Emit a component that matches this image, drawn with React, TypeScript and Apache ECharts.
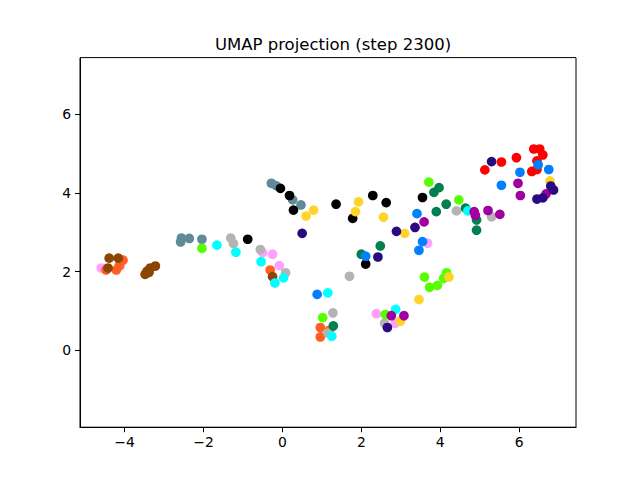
import React, { useEffect, useRef } from "react";
import * as echarts from "echarts";

const titleText = "UMAP projection (step 2300)";
const xTicks = [-4, -2, 0, 2, 4, 6];
const yTicks = [0, 2, 4, 6];

const pinkPts = [[-4.59, 2.09], [-4.1, 2.16], [-0.5, 2.48], [-0.25, 2.44], [-0.08, 2.15], [3.68, 2.72], [2.38, 0.93], [2.86, 0.69]];
const orangePts = [[-4.47, 2.04], [-4.21, 2.04], [-4.04, 2.29], [-4.14, 2.14], [-0.31, 2.04], [0.96, 0.58], [1.19, 0.51], [0.96, 0.34]];
const brownPts = [[-4.39, 2.34], [-4.16, 2.34], [-4.42, 2.09], [-3.48, 1.93], [-3.43, 2.01], [-3.35, 2.09], [-3.22, 2.14], [-3.38, 1.98], [-0.25, 1.87]];
const slatePts = [[-2.58, 2.75], [-2.56, 2.85], [-2.36, 2.84], [-2.04, 2.82], [-0.28, 4.24], [-0.16, 4.18], [0.26, 3.82], [0.47, 3.69]];
const grayPts = [[-1.31, 2.85], [-1.24, 2.71], [-0.56, 2.56], [0.08, 1.97], [1.7, 1.88], [1.28, 0.95], [1.15, 0.44], [2.59, 0.69], [4.41, 3.54], [5.3, 3.39]];
const greenPts = [[3.84, 4.01], [3.97, 4.13], [4.15, 3.71], [3.9, 3.52], [4.64, 3.61], [4.92, 3.31], [4.92, 3.05], [2.48, 2.65], [2.0, 2.44], [1.29, 0.62]];
const limePts = [[3.71, 4.27], [4.47, 3.82], [-2.04, 2.59], [1.02, 0.83], [2.61, 0.91], [3.6, 1.86], [3.73, 1.6], [3.93, 1.65], [4.09, 1.83], [4.16, 1.97]];
const cyanPts = [[-1.66, 2.67], [-1.18, 2.49], [-0.54, 2.25], [0.03, 1.84], [-0.19, 1.71], [1.15, 1.46], [1.25, 0.36], [2.87, 1.04], [4.7, 3.54]];
const blackPts = [[-0.88, 2.82], [-0.05, 4.11], [0.18, 3.93], [0.28, 3.56], [1.36, 3.71], [1.78, 3.35], [2.29, 3.93], [2.63, 3.75], [2.11, 2.19], [3.55, 3.88]];
const yellowPts = [[6.78, 4.3], [0.6, 3.41], [0.79, 3.56], [1.93, 3.77], [1.85, 3.52], [2.56, 3.38], [3.1, 2.97], [2.99, 0.74], [3.46, 1.29], [4.22, 1.86]];
const redPts = [[5.13, 4.58], [5.55, 4.78], [5.93, 4.89], [6.37, 5.11], [6.52, 5.11], [6.6, 4.96], [6.45, 4.81], [6.45, 4.59], [6.32, 4.54]];
const bluePts = [[6.02, 4.52], [5.55, 4.19], [6.48, 4.71], [6.75, 4.59], [3.41, 3.47], [3.55, 2.76], [3.46, 2.54], [2.11, 2.39], [0.88, 1.42]];
const magentaPts = [[5.97, 4.24], [6.03, 3.93], [6.68, 3.97], [3.59, 3.26], [4.86, 3.52], [4.89, 3.43], [5.21, 3.55], [5.51, 3.45], [2.76, 0.88], [3.08, 0.88]];
const indigoPts = [[5.3, 4.79], [0.5, 2.97], [2.89, 3.02], [3.36, 3.12], [2.42, 2.37], [2.66, 0.58], [6.8, 4.17], [6.87, 4.07], [6.45, 3.84], [6.6, 3.87]];

const groups: [number[][], string][] = [
  [pinkPts, "#ffa0ff"],
  [orangePts, "#ff5f1f"],
  [brownPts, "#8b4500"],
  [slatePts, "#5f8b96"],
  [grayPts, "#b4b4b4"],
  [greenPts, "#007f4f"],
  [limePts, "#55ff00"],
  [cyanPts, "#00ffff"],
  [blackPts, "#000000"],
  [yellowPts, "#ffd42a"],
  [redPts, "#ff0000"],
  [bluePts, "#0080ff"],
  [magentaPts, "#a000a0"],
  [indigoPts, "#2a0a80"],
];

const fmt = (v: number) => String(v).replace("-", "\u2212");

export default function App() {
  const ref = useRef<HTMLDivElement>(null);
  useEffect(() => {
    if (!ref.current) return;
    const chart = echarts.init(ref.current, null, { renderer: "svg" });
    chart.setOption({
      animation: false,
      backgroundColor: "#ffffff",
      textStyle: { fontFamily: "DejaVu Sans" },
      title: {
        text: titleText,
        left: 328,
        textAlign: "center",
        top: 31,
        textStyle: { fontSize: 16.5, fontWeight: "normal", color: "#000", fontFamily: "DejaVu Sans" },
      },
      grid: {
        left: 80,
        right: 64,
        top: 57.6,
        bottom: 52.8,
        show: true,
        borderColor: "#000",
        borderWidth: 1,
        backgroundColor: "#fff",
      },
      xAxis: {
        type: "value",
        min: -5.13,
        max: 7.44,
        splitLine: { show: false },
        axisLine: { show: true, onZero: false, lineStyle: { color: "#000", width: 1 } },
        axisTick: { show: true, length: 5, inside: false, customValues: xTicks, lineStyle: { color: "#000" } },
        axisLabel: {
          customValues: xTicks,
          formatter: fmt,
          margin: 8,
          fontSize: 13.9,
          color: "#000",
          fontFamily: "DejaVu Sans",
        },
      },
      yAxis: {
        type: "value",
        min: -1.95,
        max: 7.43,
        splitLine: { show: false },
        axisLine: { show: true, onZero: false, lineStyle: { color: "#000", width: 1 } },
        axisTick: { show: true, length: 5, inside: false, customValues: yTicks, lineStyle: { color: "#000" } },
        axisLabel: {
          customValues: yTicks,
          formatter: fmt,
          margin: 9,
          fontSize: 13.9,
          color: "#000",
          fontFamily: "DejaVu Sans",
        },
      },
      series: groups.map(([pts, color]) => ({
        type: "scatter",
        data: pts,
        symbol: "circle",
        symbolSize: 9.7,
        itemStyle: { color, opacity: 1 },
        emphasis: { disabled: true },
      })),
    });
    return () => chart.dispose();
  }, []);
  return (
    <div
      ref={ref}
      style={{ position: "fixed", left: 0, top: 0, width: 640, height: 480, background: "#fff" }}
    />
  );
}
